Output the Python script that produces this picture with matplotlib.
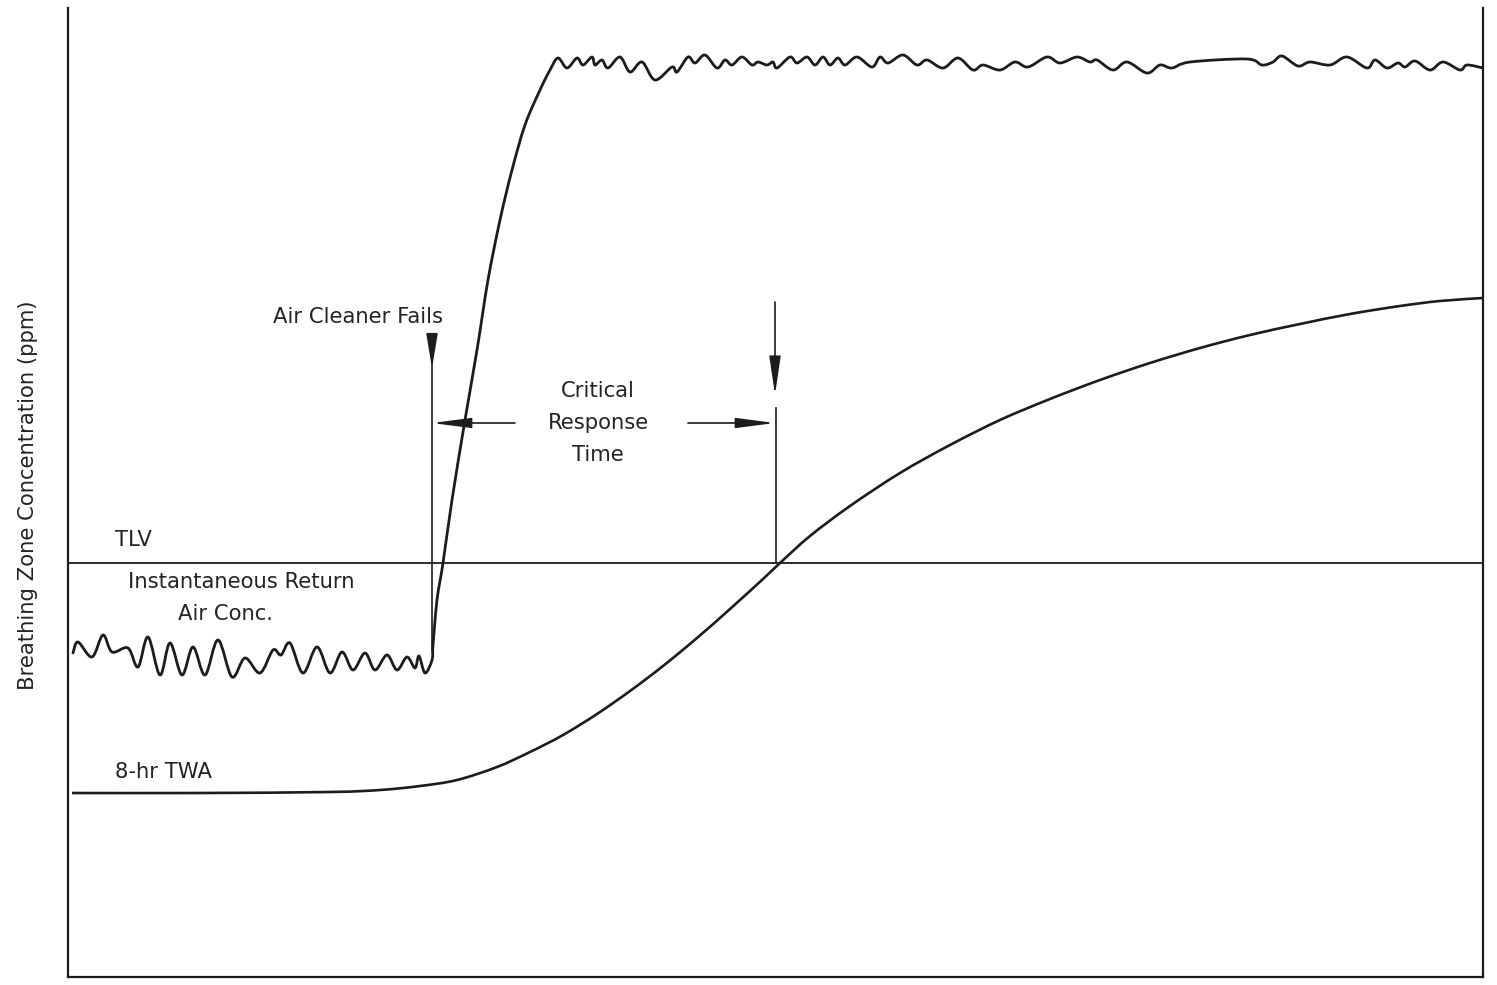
import matplotlib
matplotlib.use("Agg")
import matplotlib.pyplot as plt
from matplotlib.path import Path
from matplotlib.patches import PathPatch

# --- data (x = time, y = concentration, arbitrary units) ---
inst_x = [5, 10, 24, 35, 44, 60, 70, 80, 92, 102, 114, 125, 137, 150, 164, 177,
          192, 205, 213, 222, 235, 249, 262, 274, 285, 297, 307, 319, 329, 339,
          347, 351, 357, 364,
          365, 369, 375, 384, 397, 409, 420, 432, 444, 457, 472, 482, 490,
          499, 509, 515, 524, 527, 534, 540, 552, 562, 574, 587, 604, 609, 620,
          627, 637, 649, 657, 664, 674, 684, 690, 699, 705, 709, 722, 729, 739,
          747, 755, 762, 770, 777, 789, 804, 812, 820, 835, 849, 859, 875, 890,
          905, 915, 932, 947, 960, 979, 992, 1009, 1022, 1029, 1045, 1059, 1079,
          1092, 1104, 1122, 1179, 1194, 1205, 1214, 1230, 1242, 1262, 1279, 1299,
          1307, 1319, 1330, 1337, 1347, 1362, 1375, 1392, 1399, 1415]
inst_y = [324, 335, 320, 342, 325, 329, 310, 340, 302, 334, 302, 330, 302, 337, 300, 319,
          304, 327, 322, 334, 304, 330, 304, 325, 307, 324, 307, 322, 307, 320,
          309, 321, 304, 317,
          332, 377, 414, 477, 557, 627, 697, 757, 807, 852, 887, 907, 919,
          909, 919, 912, 920, 912, 917, 909, 920, 905, 915, 897, 910, 905, 920,
          914, 922, 909, 917, 912, 920, 912, 915, 912, 915, 909, 920, 914, 920,
          912, 920, 912, 919, 912, 920, 910, 920, 914, 922, 912, 917, 909, 919,
          907, 912, 907, 915, 910, 920, 914, 920, 915, 917, 907, 915, 904,
          912, 909, 915, 918, 912, 915, 921, 911, 915, 912, 920, 909,
          917, 909, 914, 910, 916, 907, 915, 907, 912, 909]

twa_x = [4, 132, 262, 312, 352, 389, 429, 462, 495, 529, 562, 595, 629, 662, 695,
         712, 742, 782, 832, 882, 932, 982, 1032, 1082, 1132, 1182, 1232, 1282,
         1332, 1372, 1415]
twa_y = [184, 184, 185, 187, 191, 197, 210, 225, 242, 263, 286, 311, 339, 368, 398,
         414, 441, 471, 504, 532, 557, 578, 597, 614, 629, 642, 653, 663,
         671, 676, 679]

tlv_level = 414
fail_time = 364
tlv_cross_time = 708

INK = "#1c1c1c"
TXT = "#232323"
FS = 15.2


def smooth_path(xs, ys):
    """Bezier path passing through every point (Catmull-Rom style handles)."""
    pts = list(zip(xs, ys))
    n = len(pts)
    verts = [pts[0]]
    codes = [Path.MOVETO]
    for i in range(n - 1):
        p0 = pts[max(i - 1, 0)]
        p1 = pts[i]
        p2 = pts[i + 1]
        p3 = pts[min(i + 2, n - 1)]
        c1 = (p1[0] + (p2[0] - p0[0]) / 6.0, p1[1] + (p2[1] - p0[1]) / 6.0)
        c2 = (p2[0] - (p3[0] - p1[0]) / 6.0, p2[1] - (p3[1] - p1[1]) / 6.0)
        verts += [c1, c2, p2]
        codes += [Path.CURVE4] * 3
    return Path(verts, codes)


fig = plt.figure(figsize=(14.97, 9.85), dpi=100)
ax = fig.add_axes([68 / 1497, 8 / 985, 1415 / 1497, 969 / 985])
ax.set_xlim(0, 1415)
ax.set_ylim(0, 969)
ax.set_xticks([])
ax.set_yticks([])
ax.spines["top"].set_visible(False)
for s in ("left", "right", "bottom"):
    ax.spines[s].set_linewidth(1.6)
    ax.spines[s].set_color(INK)

# curves
ax.add_patch(PathPatch(smooth_path(inst_x, inst_y), facecolor="none", edgecolor=INK,
                       lw=2.0, joinstyle="round", capstyle="round"))
ax.add_patch(PathPatch(smooth_path(twa_x, twa_y), facecolor="none", edgecolor=INK,
                       lw=1.9, joinstyle="round"))
ax.axhline(tlv_level, color=INK, lw=1.3)

# "Air Cleaner Fails" marker
ax.plot([fail_time, fail_time], [639, 327], color=INK, lw=1.2)
ax.annotate("", xy=(fail_time, 609), xytext=(fail_time, 640),
            arrowprops=dict(arrowstyle="-|>,head_length=1.5,head_width=0.25",
                            mutation_scale=14, color=INK, lw=1.2, shrinkA=0, shrinkB=0))

# down arrow and line at TLV crossing
ax.annotate("", xy=(tlv_cross_time - 1, 582), xytext=(tlv_cross_time - 1, 675),
            arrowprops=dict(arrowstyle="-|>,head_length=1.7,head_width=0.25",
                            mutation_scale=14, color=INK, lw=1.2, shrinkA=0, shrinkB=0))
ax.plot([tlv_cross_time, tlv_cross_time], [569, tlv_level], color=INK, lw=1.2)

# critical response time arrows
ax.annotate("", xy=(fail_time, 554), xytext=(447, 554),
            arrowprops=dict(arrowstyle="-|>,head_length=1.7,head_width=0.22",
                            mutation_scale=14, color=INK, lw=1.2, shrinkA=0, shrinkB=0))
ax.annotate("", xy=(tlv_cross_time - 1, 554), xytext=(620, 554),
            arrowprops=dict(arrowstyle="-|>,head_length=1.7,head_width=0.22",
                            mutation_scale=14, color=INK, lw=1.2, shrinkA=0, shrinkB=0))

# labels
ax.text(375, 660, "Air Cleaner Fails", ha="right", va="center", fontsize=FS, color=TXT)
ax.text(530, 586, "Critical", ha="center", va="center", fontsize=FS, color=TXT)
ax.text(530, 554, "Response", ha="center", va="center", fontsize=FS, color=TXT)
ax.text(530, 522, "Time", ha="center", va="center", fontsize=FS, color=TXT)
ax.text(47, 437, "TLV", ha="left", va="center", fontsize=FS, color=TXT)
ax.text(173, 395, "Instantaneous Return", ha="center", va="center", fontsize=FS, color=TXT)
ax.text(157, 363, "Air Conc.", ha="center", va="center", fontsize=FS, color=TXT)
ax.text(47, 205, "8-hr TWA", ha="left", va="center", fontsize=FS, color=TXT)

fig.text(28 / 1497, 1 - 495 / 985, "Breathing Zone Concentration (ppm)", rotation=90,
         ha="center", va="center", fontsize=FS, color=TXT)

fig.savefig("out.png", dpi=100, facecolor="white")
